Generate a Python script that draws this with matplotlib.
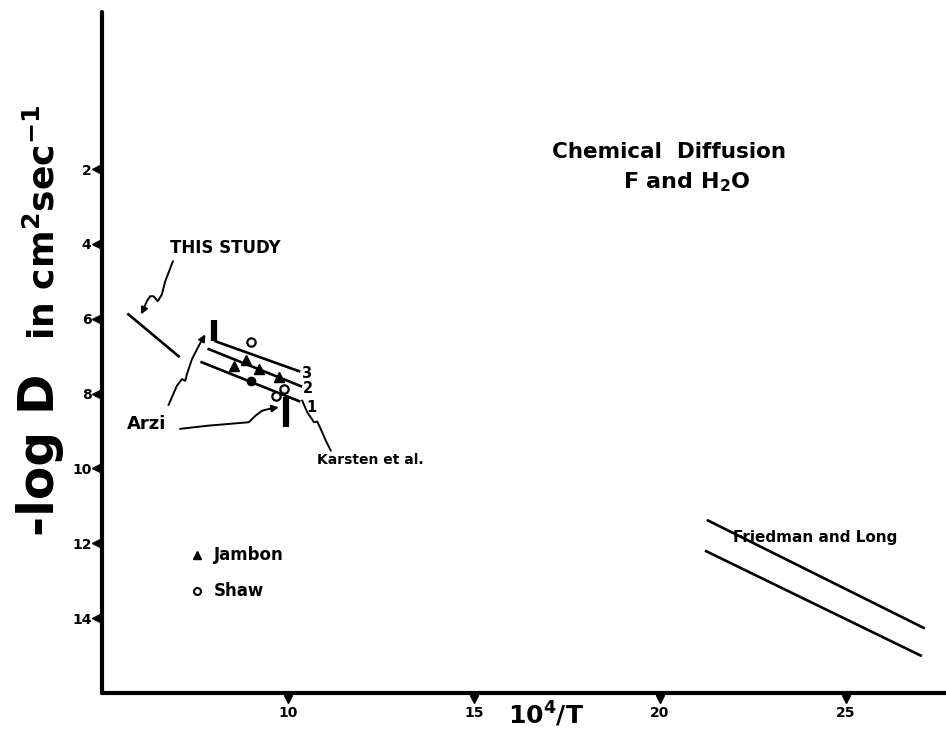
import numpy as np
import matplotlib
matplotlib.use("Agg")
import matplotlib.pyplot as plt
from matplotlib.transforms import offset_copy

plt.rcParams['font.family'] = ['DejaVu Sans']
plt.rcParams['font.weight'] = 'bold'
plt.rcParams['mathtext.fontset'] = 'custom'
plt.rcParams['mathtext.rm'] = 'DejaVu Sans:bold'
plt.rcParams['mathtext.default'] = 'rm'

# datos (x = 10^4/T, y = -log D)
x_ticks = [10, 15, 20, 25]
y_ticks = [2, 4, 6, 8, 10, 12, 14]

this_study_x = [5.71, 7.06]
this_study_y = [5.88, 7.0]

arzi_bar_x = [8.0, 8.0]
arzi_bar_y = [6.02, 6.6]
karsten_bar_x = [9.95, 9.95]
karsten_bar_y = [8.09, 8.89]

line3_x = [8.05, 10.30]
line3_y = [6.60, 7.40]
line2_x = [7.87, 10.35]
line2_y = [6.81, 7.80]
line1_x = [7.68, 10.30]
line1_y = [7.16, 8.20]
nums = ['3', '2', '1']
nums_x = [10.49, 10.53, 10.64]
nums_y = [7.45, 7.85, 8.36]

jambon_x = [8.54, 8.87, 9.22, 9.76]
jambon_y = [7.27, 7.11, 7.35, 7.56]
shaw_x = [9.0, 9.89, 9.68]
shaw_y = [6.63, 7.88, 8.06]
dot_x = [9.0]
dot_y = [7.66]

fl_upper_x = [21.30, 27.10]
fl_upper_y = [11.39, 14.26]
fl_lower_x = [21.25, 27.02]
fl_lower_y = [12.21, 15.0]

# garabatos de las etiquetas
sq_study_x = [6.906, 6.70, 6.609, 6.501, 6.385, 6.296, 6.205, 6.115, 6.053]
sq_study_y = [4.466, 4.997, 5.351, 5.529, 5.396, 5.396, 5.529, 5.75, 5.883]
sq_arzi1_x = [6.79, 7.014, 7.149, 7.24, 7.284, 7.418, 7.60, 7.78]
sq_arzi1_y = [8.30, 7.79, 7.61, 7.657, 7.479, 7.08, 6.726, 6.415]
sq_arzi2_x = [7.105, 7.869, 8.948, 9.129, 9.307, 9.487, 9.757]
sq_arzi2_y = [8.94, 8.854, 8.764, 8.588, 8.455, 8.41, 8.364]
sq_kars_x = [10.386, 10.52, 10.612, 10.70, 10.79, 10.882, 11.017, 11.152]
sq_kars_y = [8.189, 8.497, 8.63, 8.763, 8.747, 8.941, 9.253, 9.519]

fig = plt.figure(figsize=(9.46, 7.38), dpi=100)
ax = fig.add_axes([102/946, 1-693/738, 1-102/946, (693-12)/738])
ax.set_xlim(5, 27.7)
ax.set_ylim(16, -2.2)

for s in ['top', 'right']:
    ax.spines[s].set_visible(False)
for s in ['left', 'bottom']:
    ax.spines[s].set_linewidth(3)
    ax.spines[s].set_capstyle('round')

ax.set_xticks(x_ticks)
ax.set_yticks(y_ticks)
ax.tick_params(length=0, labelsize=10)
ax.tick_params(axis='x', pad=9.5)
ax.tick_params(axis='y', pad=7.5)

# marcas triangulares de los ejes
ty = offset_copy(ax.get_yaxis_transform(), fig=fig, x=-4, y=0, units='points')
ax.plot([0]*len(y_ticks), y_ticks, ls='none', marker='<', ms=6, color='k',
        transform=ty, clip_on=False)
tx = offset_copy(ax.get_xaxis_transform(), fig=fig, x=0, y=-4, units='points')
ax.plot(x_ticks, [0]*len(x_ticks), ls='none', marker='v', ms=6, color='k',
        transform=tx, clip_on=False)

lw = 1.9
ax.plot(this_study_x, this_study_y, color='k', lw=lw)
ax.plot(arzi_bar_x, arzi_bar_y, color='k', lw=4.5, solid_capstyle='butt')
ax.plot(karsten_bar_x, karsten_bar_y, color='k', lw=4.5, solid_capstyle='butt')
for lx, ly in [(line3_x, line3_y), (line2_x, line2_y), (line1_x, line1_y)]:
    ax.plot(lx, ly, color='k', lw=lw)
for t, nx, ny in zip(nums, nums_x, nums_y):
    ax.text(nx, ny, t, fontsize=10.5, ha='center', va='center')

ax.plot(jambon_x, jambon_y, ls='none', marker='^', ms=7, color='k')
ax.plot(shaw_x, shaw_y, ls='none', marker='o', ms=6, mfc='white', mec='k', mew=1.6)
ax.plot(dot_x, dot_y, ls='none', marker='o', ms=6, color='k')

ax.plot(fl_upper_x, fl_upper_y, color='k', lw=lw)
ax.plot(fl_lower_x, fl_lower_y, color='k', lw=lw)

# flechas onduladas
def squiggle(xs, ys, arrow=True):
    ax.plot(xs[:-1] if arrow else xs, ys[:-1] if arrow else ys, color='k', lw=1.4)
    if arrow:
        ax.annotate('', xy=(xs[-1], ys[-1]), xytext=(xs[-2], ys[-2]),
                    arrowprops=dict(arrowstyle='-|>', color='k', lw=1.4,
                                    mutation_scale=10, shrinkA=0, shrinkB=0))

squiggle(sq_study_x, sq_study_y)
squiggle(sq_arzi1_x, sq_arzi1_y)
squiggle(sq_arzi2_x, sq_arzi2_y)
squiggle(sq_kars_x, sq_kars_y, arrow=False)

ax.text(6.84, 4.1, 'THIS STUDY', fontsize=12, va='center')
ax.text(5.66, 8.81, 'Arzi', fontsize=13, va='center')
ax.text(10.78, 9.78, 'Karsten et al.', fontsize=10, va='center')
ax.text(21.98, 11.85, 'Friedman and Long', fontsize=11, va='center')

ax.plot([7.55], [12.32], marker='^', ms=6, color='k')
ax.text(8.0, 12.32, 'Jambon', fontsize=12, va='center')
ax.plot([7.55], [13.28], marker='o', ms=5, mfc='white', mec='k', mew=1.5)
ax.text(8.0, 13.28, 'Shaw', fontsize=12, va='center')

ax.text(17.1, 1.55, 'Chemical  Diffusion', fontsize=15.5, va='center')
ax.text(19.0, 2.35, 'F and H$_2$O', fontsize=16, va='center')

# titulos de los ejes
fig.text(40/946, 1-455/738, '-log D', fontsize=35, rotation=90, ha='center', va='center')
fig.text(43/946, 1-222/738, 'in cm$^2$sec$^{-1}$', fontsize=26, rotation=90,
         ha='center', va='center')
ax.text(16.95, -0.01, '10$^4$/T', fontsize=18, ha='center', va='top',
        transform=ax.get_xaxis_transform())

plt.savefig('out.png', dpi=100)
